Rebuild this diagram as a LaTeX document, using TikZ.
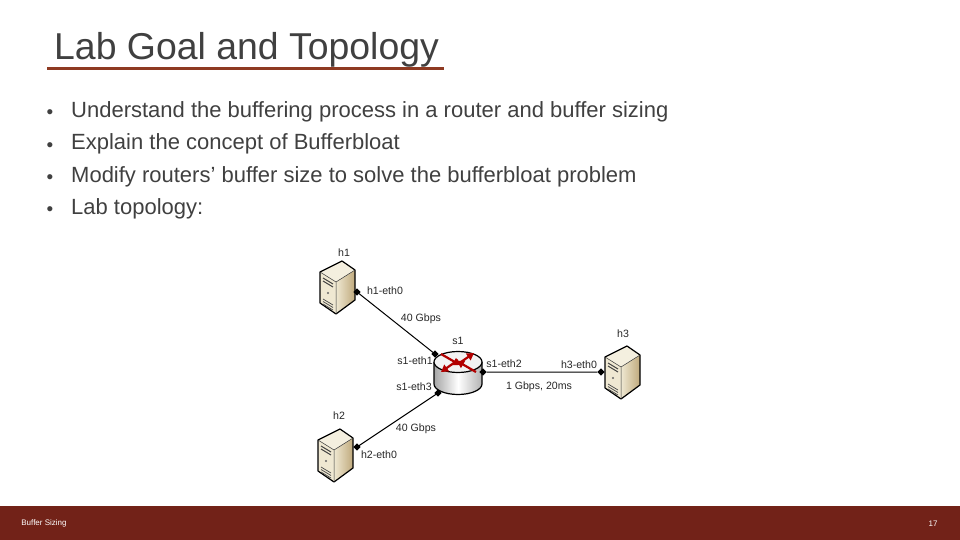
\documentclass[tikz,border=0pt]{standalone}
\usepackage{fontspec}
\setmainfont{Liberation Sans}
\definecolor{barred}{HTML}{722218}
\definecolor{rulered}{HTML}{8E3A22}
\definecolor{bodygray}{HTML}{404040}
\definecolor{servertan}{HTML}{BFA97C}
\definecolor{servercream}{HTML}{EFE8D2}
\usetikzlibrary{arrows.meta}

\begin{document}
\begin{tikzpicture}
  [x=1pt,y=-1pt,
   title/.style={anchor=base west,font=\fontsize{37.4}{38}\selectfont,text=bodygray,inner sep=0},
   bullet/.style={anchor=base west,font=\fontsize{22}{24}\selectfont,text=bodygray,inner sep=0},
   dot/.style={anchor=center,font=\fontsize{19}{20}\selectfont,text=bodygray,inner sep=0},
   footer/.style={anchor=center,font=\fontsize{8}{9}\selectfont,text=white,inner sep=0},
   label/.style={anchor=center,font=\fontsize{10.6}{12}\selectfont,text=black!85,inner sep=0},
   port/.style={rectangle,fill=black,minimum size=5pt,inner sep=0,outer sep=0,rotate=45},
   link/.style={draw=black,line width=1pt},
   redarrow/.style={draw=red!70!black,line width=2.2pt,-{Triangle[length=7pt,width=8pt]}},
   server/.pic={
     \fill[servercream] (-18,-15) -- (-2,-5) -- (-2,27) -- (-18,16) -- cycle;
     \shade[left color=servercream,right color=servertan] (-2,-5) -- (17,-17) -- (17,13) -- (-2,27) -- cycle;
     \fill[servercream!70!white] (-18,-15) -- (4,-26) -- (17,-17) -- (-2,-5) -- cycle;
     \draw[black,line width=1.2pt,line join=round] (-18,-15) -- (4,-26) -- (17,-17) -- (17,13) -- (-2,27) -- (-18,16) -- cycle;
     \draw[black!80,line width=0.5pt] (-18,-15) -- (-2,-5) -- (-2,27) (-2,-5) -- (17,-17);
     \draw[black!75,line width=1pt] (-15,-9) -- (-5,-3) (-15,-6) -- (-5,0);
     \fill[black!60] (-10,6) circle (1.2);
     \draw[black!70,line width=0.7pt] (-15,12) -- (-5,18) (-15,14.5) -- (-5,20.5) (-15,17) -- (-5,23);
   }]
  \useasboundingbox (0,0) rectangle (960,540);
  % slide frame
  \fill[barred] (0,506) rectangle (960,540);
  \node[title] (heading) at (54,59.5) {Lab Goal and Topology};
  \draw[rulered,line width=3pt] (47,69) -- (444,69);
  \node[dot] (dot1) at (50,114.5) {•};
  \node[dot] (dot2) at (50,147) {•};
  \node[dot] (dot3) at (50,179.5) {•};
  \node[dot] (dot4) at (50,211.5) {•};
  \node[bullet] (line1) at (71,117.5) {Understand the buffering process in a router and buffer sizing};
  \node[bullet] (line2) at (71,150) {Explain the concept of Bufferbloat};
  \node[bullet] (line3) at (71,182.5) {Modify routers’ buffer size to solve the bufferbloat problem};
  \node[bullet] (line4) at (71,214.5) {Lab topology:};
  \node[footer] (section) at (44,523) {Buffer Sizing};
  \node[footer] (pagenum) at (933,524) {17};
  % hosts
  \pic at (338,287) {server};
  \pic at (336,455) {server};
  \pic at (623,372) {server};
  % router
  \shade[left color=black!35,right color=black!30,middle color=white] (434,362) -- (434,384) arc[start angle=180,end angle=0,x radius=24,y radius=10.5] -- (482,362) -- cycle;
  \draw[black,line width=1.2pt] (434,362) -- (434,384) arc[start angle=180,end angle=0,x radius=24,y radius=10.5] -- (482,362);
  \draw[black,line width=1.2pt,fill=black!5] (458,362) ellipse[x radius=24,y radius=10.5];
  \draw[redarrow] (441,354) -- (460,365);
  \draw[redarrow] (476,372) -- (457,361);
  \draw[redarrow] (458,364) -- (474,353);
  \draw[redarrow] (458,360) -- (441,372);
  % ports and links
  \node[port] (h1eth0) at (357,292) {};
  \node[port] (s1eth1) at (435,354) {};
  \node[port] (s1eth2) at (483,372) {};
  \node[port] (h3eth0) at (601,372) {};
  \node[port] (s1eth3) at (438,393) {};
  \node[port] (h2eth0) at (357,447) {};
  \draw[link] (h1eth0) -- (s1eth1);
  \draw[link] (s1eth2) -- (h3eth0);
  \draw[link] (s1eth3) -- (h2eth0);
  % labels
  \node[label] at (344,253) {h1};
  \node[label] at (339,416) {h2};
  \node[label] at (623,334) {h3};
  \node[label] at (458,341) {s1};
  \node[label] at (385,291) {h1-eth0};
  \node[label] at (379,455) {h2-eth0};
  \node[label] at (579,365) {h3-eth0};
  \node[label] at (415,361) {s1-eth1};
  \node[label] at (504,364) {s1-eth2};
  \node[label] at (414,387) {s1-eth3};
  \node[label] at (421,319) {40 Gbps};
  \node[label] at (416,429) {40 Gbps};
  \node[label] at (539,387) {1 Gbps, 20ms};
\end{tikzpicture}
\end{document}
